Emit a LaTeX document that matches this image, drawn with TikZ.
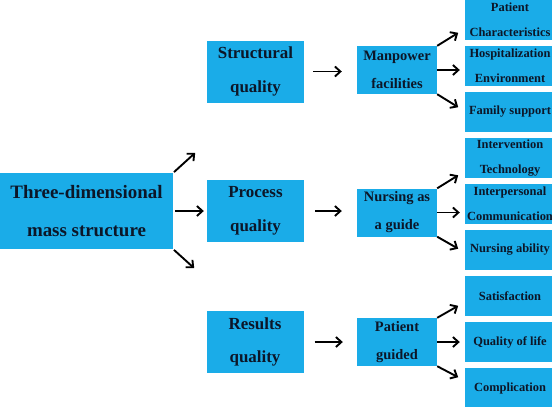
\documentclass[tikz,border=0pt]{standalone}
\usepackage{fontspec}
\setmainfont{Liberation Serif}
\usetikzlibrary{arrows.meta,positioning}
\definecolor{BoxBlue}{RGB}{26,172,232}
\definecolor{InkNavy}{RGB}{12,22,40}
\tikzset{
  mainbox/.style={fill=BoxBlue,minimum width=173bp,minimum height=76bp,
    inner sep=0pt,align=center,text=InkNavy,
    font=\bfseries\fontsize{19}{38}\selectfont},
  qualbox/.style={fill=BoxBlue,minimum width=97bp,minimum height=62bp,
    inner sep=0pt,align=center,text=InkNavy,
    font=\bfseries\fontsize{17}{34}\selectfont},
  subbox/.style={fill=BoxBlue,minimum width=80bp,minimum height=48bp,
    inner sep=0pt,align=center,text=InkNavy,
    font=\bfseries\fontsize{14.5}{28}\selectfont},
  itembox/.style={fill=BoxBlue,minimum width=90bp,minimum height=40bp,
    inner sep=0pt,align=center,text=InkNavy,
    font=\bfseries\fontsize{12.5}{25}\selectfont},
  fanarrow/.style={-{Straight Barb[length=5.5bp,width=10bp]},
    line width=1.9bp,draw=black},
}

\begin{document}
\begin{tikzpicture}[x=1bp,y=-1bp,node distance=5.6bp]
  \useasboundingbox (0,0) rectangle (552,406);
  \node[mainbox] (three) at (86.5,211) {Three-dimensional\\mass structure};
  \node[qualbox] (struct) at (255.5,71.5) {Structural\\quality};
  \node[qualbox] (process) at (255.5,211) {Process\\quality};
  \node[qualbox] (results) at (255,342) {Results\\quality};
  \node[subbox] (manpower) at (397,70) {Manpower\\facilities};
  \node[subbox] (guide) at (397,212.5) {Nursing as\\a guide};
  \node[subbox] (guided) at (397,342) {Patient\\guided};
  % right column
  \node[itembox] (pchar) at (510,20) {Patient\\Characteristics};
  \node[itembox,below=of pchar] (hosp) {Hospitalization\\Environment};
  \node[itembox,below=of hosp] (family) {Family support};
  \node[itembox,below=of family] (interv) {Intervention\\Technology};
  \node[itembox,below=of interv] (interp) {Interpersonal\\Communication};
  \node[itembox,below=of interp] (ability) {Nursing ability};
  \node[itembox,below=of ability] (satis) {Satisfaction};
  \node[itembox,below=of satis] (life) {Quality of life};
  \node[itembox,below=of life] (compl) {Complication};
  % free ends of the fans
  \coordinate (threeup) at ([shift={(22,-20)}]three.north east);
  \coordinate (threedn) at ([shift={(21,19)}]three.south east);
  \coordinate (manup) at ([shift={(21,-13)}]manpower.north east);
  \coordinate (mandn) at ([shift={(21,13)}]manpower.south east);
  \coordinate (guideup) at ([shift={(21,-13)}]guide.north east);
  \coordinate (guidedn) at ([shift={(21,12)}]guide.south east);
  \coordinate (guidedup) at ([shift={(21,-12)}]guided.north east);
  \coordinate (guideddn) at ([shift={(21,11)}]guided.south east);
  \draw[fanarrow,shorten <=1bp] (three.north east) -- (threeup);
  \draw[fanarrow,shorten <=2bp,shorten >=3bp] (three.east) -- (process.west);
  \draw[fanarrow,shorten <=1bp] (three.south east) -- (threedn);
  \draw[fanarrow,shorten <=9bp,shorten >=15bp] (struct.east) -- (struct.east -| manpower.west);
  \draw[fanarrow,shorten <=11bp,shorten >=15bp] (process.east) -- (process.east -| guide.west);
  \draw[fanarrow,shorten <=11bp,shorten >=14bp] (results.east) -- (results.east -| guided.west);
  \draw[fanarrow] (manpower.north east) -- (manup);
  \draw[fanarrow,shorten >=5bp] (manpower.east) -- (manpower.east -| hosp.west);
  \draw[fanarrow] (manpower.south east) -- (mandn);
  \draw[fanarrow] (guide.north east) -- (guideup);
  \draw[fanarrow,shorten >=5bp] (guide.east) -- (guide.east -| interp.west);
  \draw[fanarrow] (guide.south east) -- (guidedn);
  \draw[fanarrow] (guided.north east) -- (guidedup);
  \draw[fanarrow,shorten >=5bp] (guided.east) -- (guided.east -| life.west);
  \draw[fanarrow] (guided.south east) -- (guideddn);
\end{tikzpicture}
\end{document}
